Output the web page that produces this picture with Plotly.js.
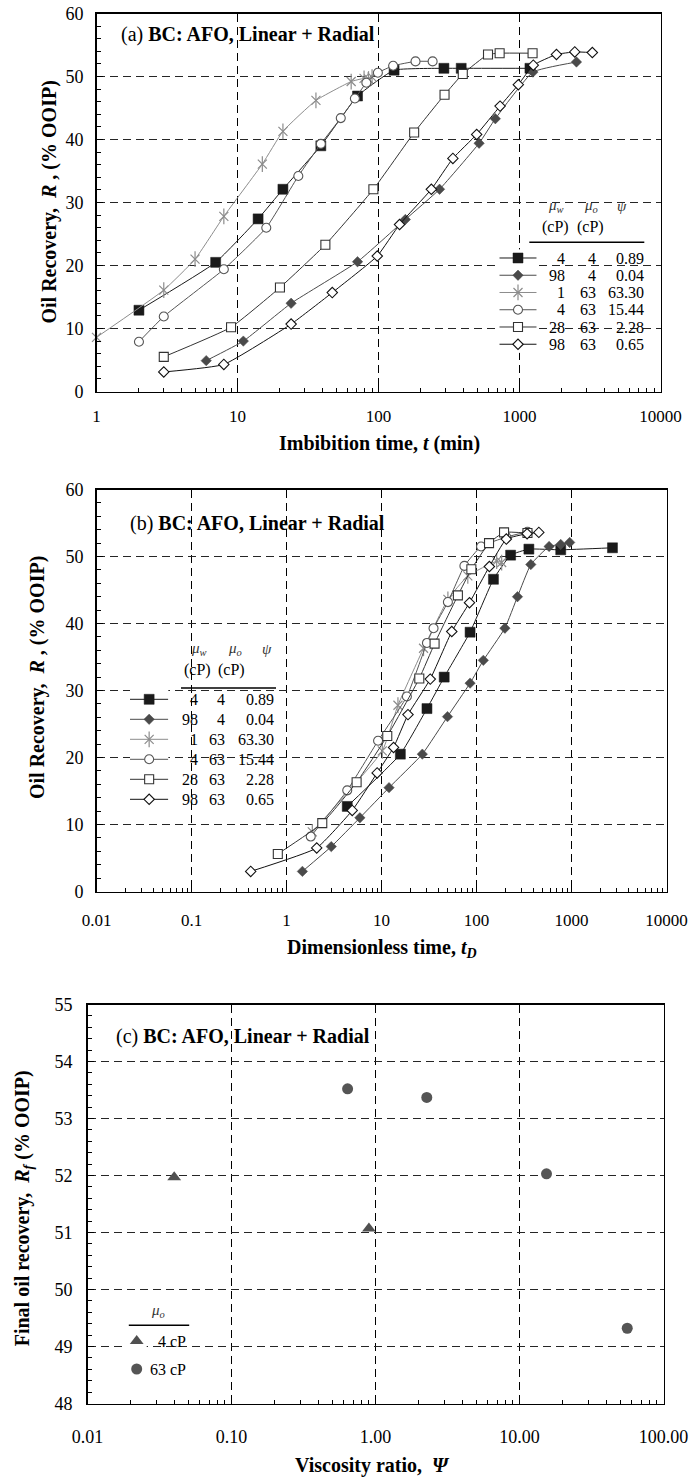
<!DOCTYPE html>
<html>
<head>
<meta charset="utf-8">
<script src="https://cdn.plot.ly/plotly-3.0.1.min.js"></script>
<style>html,body{margin:0;padding:0;background:#fff;}#chart{width:690px;height:1477px;}</style>
</head>
<body>
<div id="chart"></div>
<script>
// ---------------- DATA ----------------
// Panel (a): imbibition time t (min) vs oil recovery R (% OOIP)
const tA_sqF = [2, 7, 14, 21, 39, 71, 129, 291, 386, 1186];
const RA_sqF = [12.9, 20.5, 27.4, 32.1, 39.0, 46.9, 51.0, 51.3, 51.3, 51.3];
const tA_diF = [6, 11, 24, 71, 155, 271, 517, 674, 1245, 2535];
const RA_diF = [4.9, 8.0, 14.0, 20.6, 27.3, 32.1, 39.4, 43.3, 50.7, 52.3];
const tA_ast = [1, 3, 5, 8, 15, 21, 36, 64, 79, 85, 90];
const RA_ast = [8.6, 16.1, 21.0, 27.8, 36.1, 41.3, 46.2, 49.2, 49.7, 49.6, 49.9];
const tA_ciO = [2, 3, 8, 16, 27, 39, 54, 68, 82, 99, 127, 183, 242];
const RA_ciO = [7.9, 11.9, 19.4, 26.0, 34.2, 39.3, 43.4, 46.5, 49.0, 50.6, 51.7, 52.4, 52.4];
const tA_sqO = [3, 9, 20, 42, 92, 179, 294, 396, 598, 723, 1238];
const RA_sqO = [5.5, 10.2, 16.5, 23.3, 32.1, 41.1, 47.1, 50.4, 53.5, 53.7, 53.7];
const tA_diO = [3, 8, 24, 47, 98, 141, 237, 337, 497, 728, 981, 1253, 1829, 2466, 3285];
const RA_diO = [3.1, 4.3, 10.7, 15.7, 21.5, 26.5, 32.1, 37.0, 40.8, 45.3, 48.7, 51.8, 53.5, 53.9, 53.8];

// Panel (b): dimensionless time tD vs oil recovery R (% OOIP)
const tB_sqF = [4.36, 15.8, 30.1, 45.7, 85.6, 150.8, 228.6, 356, 770, 2700];
const RB_sqF = [12.7, 20.5, 27.3, 32.0, 38.7, 46.6, 50.2, 51.1, 51.0, 51.3];
const tB_diF = [1.47, 2.96, 5.92, 12.0, 26.9, 49.5, 85.6, 118, 199, 270, 373, 581, 770, 957];
const RB_diF = [3.0, 6.7, 11.0, 15.5, 20.5, 26.1, 31.1, 34.5, 39.3, 44.0, 48.8, 51.5, 51.8, 52.1];
const tB_ast = [1.87, 10.2, 14.9, 27.7, 50, 81, 163, 184];
const RB_ast = [8.9, 21.0, 27.8, 36.3, 43.6, 47.1, 49.3, 49.1];
const tB_ciO = [1.80, 4.36, 9.2, 18.5, 30.1, 35.3, 50, 74.6, 111.7, 206, 344];
const RB_ciO = [8.2, 15.1, 22.5, 29.1, 37.1, 39.3, 43.2, 48.6, 51.5, 52.9, 53.7];
const tB_sqO = [0.81, 2.38, 5.47, 11.5, 25.0, 36.2, 63.7, 88.3, 135.5, 195, 344];
const RB_sqO = [5.6, 10.2, 16.3, 23.2, 31.8, 37.0, 44.2, 48.1, 52.0, 53.6, 53.5];
const tB_diO = [0.42, 2.08, 4.92, 9.0, 13.4, 19.0, 32.6, 54.9, 84.4, 136.6, 206, 341, 453];
const RB_diO = [3.0, 6.5, 12.1, 17.7, 21.5, 26.4, 31.7, 38.8, 43.1, 48.5, 52.6, 53.4, 53.6];

// Panel (c): viscosity ratio vs final oil recovery
const psi_4cP = [0.04, 0.90];
const Rf_4cP = [51.97, 51.07];
const psi_63cP = [0.64, 2.27, 15.4, 56];
const Rf_63cP = [53.52, 53.37, 52.03, 49.32];

// Legend table
const muW = ['4', '98', '1', '4', '28', '98'];
const muO = ['4', '4', '63', '63', '63', '63'];
const psiLbl = ['0.89', '0.04', '63.30', '15.44', '2.28', '0.65'];
const cLegendLbl = ['4 cP', '63 cP'];

// Tick labels
const ticksA = ['1', '10', '100', '1000', '10000'];
const ticksB = ['0.01', '0.1', '1', '10', '100', '1000', '10000'];
const ticksC = ['0.01', '0.10', '1.00', '10.00', '100.00'];

// ---------------- STYLE / LAYOUT ----------------
const W = 690, H = 1477;
const FONT = 'Liberation Serif, Times New Roman, Times, serif';
const px = x => x / W;
const py = y => 1 - y / H;

// star = x-thin + vertical bar overlay (6-arm asterisk)
const styles = [
  {sym: 'square', fill: '#1a1a1a', edge: '#1a1a1a', line: '#1a1a1a', size: 10, lw: 0.5},
  {sym: 'diamond', fill: '#4a4a4a', edge: '#4a4a4a', line: '#4a4a4a', size: 8, lw: 0.5},
  {sym: 'x-thin-open', fill: '#8c8c8c', edge: '#8c8c8c', line: '#8c8c8c', size: 9, lw: 1.2, bar: true},
  {sym: 'circle', fill: '#ffffff', edge: '#555555', line: '#555555', size: 9, lw: 1.1},
  {sym: 'square', fill: '#ffffff', edge: '#333333', line: '#333333', size: 9, lw: 1.1},
  {sym: 'diamond', fill: '#ffffff', edge: '#111111', line: '#111111', size: 8, lw: 1.1}
];

const xsA = [tA_sqF, tA_diF, tA_ast, tA_ciO, tA_sqO, tA_diO];
const ysA = [RA_sqF, RA_diF, RA_ast, RA_ciO, RA_sqO, RA_diO];
const xsB = [tB_sqF, tB_diF, tB_ast, tB_ciO, tB_sqO, tB_diO];
const ysB = [RB_sqF, RB_diF, RB_ast, RB_ciO, RB_sqO, RB_diO];

function mk(s) {
  return {symbol: s.sym, size: s.size, color: s.fill, line: {color: s.edge, width: s.lw}};
}
function barMk(s) {
  return {symbol: 'line-ns-open', size: s.size * 1.25, color: s.edge, line: {color: s.edge, width: s.lw}};
}

const traces = [];
function addSeries(xs, ys, xa, ya) {
  xs.forEach((x, i) => {
    const s = styles[i];
    traces.push({x: x, y: ys[i], xaxis: xa, yaxis: ya, type: 'scatter', mode: 'lines+markers',
      line: {color: s.line, width: 1, shape: 'spline', smoothing: 0.4},
      marker: mk(s), cliponaxis: false, showlegend: false, hoverinfo: 'skip'});
    if (s.bar) traces.push({x: x, y: ys[i], xaxis: xa, yaxis: ya, type: 'scatter', mode: 'markers',
      marker: barMk(s), cliponaxis: false, showlegend: false, hoverinfo: 'skip'});
  });
}
addSeries(xsA, ysA, 'x', 'y');
addSeries(xsB, ysB, 'x2', 'y2');

traces.push({x: psi_4cP, y: Rf_4cP, xaxis: 'x3', yaxis: 'y3', type: 'scatter', mode: 'markers',
  marker: {symbol: 'triangle-up', size: 12, color: '#505050'}, cliponaxis: false, showlegend: false});
traces.push({x: psi_63cP, y: Rf_63cP, xaxis: 'x3', yaxis: 'y3', type: 'scatter', mode: 'markers',
  marker: {symbol: 'circle', size: 11, color: '#555555'}, cliponaxis: false, showlegend: false});

// legend glyphs (row index = series index)
function addLegendGlyphs(xa, ya) {
  styles.forEach((s, i) => {
    traces.push({x: [0, 1], y: [i, i], xaxis: xa, yaxis: ya, mode: 'lines', type: 'scatter',
      line: {color: s.line, width: 1}, showlegend: false, hoverinfo: 'skip', cliponaxis: false});
    traces.push({x: [0.5], y: [i], xaxis: xa, yaxis: ya, mode: 'markers', type: 'scatter',
      marker: mk(s), showlegend: false, hoverinfo: 'skip', cliponaxis: false});
    if (s.bar) traces.push({x: [0.5], y: [i], xaxis: xa, yaxis: ya, mode: 'markers', type: 'scatter',
      marker: barMk(s), showlegend: false, hoverinfo: 'skip', cliponaxis: false});
  });
}
addLegendGlyphs('x4', 'y4');
addLegendGlyphs('x5', 'y5');
traces.push({x: [0.5], y: [0], xaxis: 'x6', yaxis: 'y6', mode: 'markers', type: 'scatter',
  marker: {symbol: 'triangle-up', size: 12, color: '#505050'}, showlegend: false, cliponaxis: false});
traces.push({x: [0.5], y: [1], xaxis: 'x6', yaxis: 'y6', mode: 'markers', type: 'scatter',
  marker: {symbol: 'circle', size: 11, color: '#555555'}, showlegend: false, cliponaxis: false});

function logMinors(lo, hi) {
  const v = [];
  for (let k = lo; k < hi; k++) for (let d = 2; d <= 9; d++) v.push(d * Math.pow(10, k));
  return v;
}
function logAxis(dom, anchor, lo, hi, labels, fs) {
  const vals = [];
  for (let k = lo; k <= hi; k++) vals.push(Math.pow(10, k));
  return {type: 'log', domain: dom, anchor: anchor, range: [lo, hi], tickmode: 'array',
    tickvals: vals, ticktext: labels, ticks: 'inside', ticklen: 6, tickwidth: 1, tickcolor: '#000',
    showline: true, linecolor: '#000', linewidth: 1.5, mirror: true, zeroline: false,
    showgrid: true, gridcolor: '#000', gridwidth: 1, griddash: '8px,5px',
    tickfont: {size: fs, family: FONT, color: '#000'}, ticklabelstandoff: 8,
    minor: {tickmode: 'array', tickvals: logMinors(lo, hi), ticks: 'inside', ticklen: 4,
      tickcolor: '#000', tickwidth: 1, showgrid: false}};
}
function linAxis(dom, anchor, lo, hi, dt, mdt, standoff) {
  return {domain: dom, anchor: anchor, range: [lo, hi], tick0: lo, dtick: dt, ticks: 'inside',
    ticklen: 6, tickwidth: 1, tickcolor: '#000', showline: true, linecolor: '#000', linewidth: 1.5,
    mirror: true, zeroline: false, showgrid: true, gridcolor: '#262626', gridwidth: 1,
    griddash: '8px,5px', tickfont: {size: 18, family: FONT, color: '#000'},
    ticklabelstandoff: standoff,
    minor: {dtick: mdt, ticks: 'inside', ticklen: 4, tickcolor: '#000', tickwidth: 1, showgrid: false}};
}
function hidden(dom, rng) {
  return {domain: dom, range: rng, visible: false, showgrid: false, zeroline: false, fixedrange: true};
}

// pixel geometry of the panels (edges on half pixels, integer grid spacing -> crisp dashed grid)
const A = {l: 96.5, r: 96.5 + 4 * 141, t: 13.5, b: 13.5 + 6 * 63};
const B = {l: 96.5, r: 96.5 + 6 * 95, t: 489.5, b: 489.5 + 6 * 67};
const C = {l: 87.5, r: 87.5 + 4 * 144, t: 1004.5, b: 1004.5 + 7 * 57};

const legA = {x0: 499.3, x1: 536.7, y0: 258, step: 17.25};
const legB = {x0: 130, x1: 168.3, y0: 699.3, step: 20};
const legC = {x0: 126.7, x1: 146.7, y0: 1341, step: 28};

function rowsDom(L, n) {
  return [py(L.y0 + (n - 0.5) * L.step), py(L.y0 - 0.5 * L.step)];
}

const layout = {
  width: W, height: H, margin: {l: 0, r: 0, t: 0, b: 0},
  paper_bgcolor: '#fff', plot_bgcolor: '#fff', showlegend: false,
  font: {family: FONT, color: '#000', size: 17},
  xaxis: logAxis([px(A.l), px(A.r)], 'y', 0, 4, ticksA, 17),
  yaxis: linAxis([py(A.b), py(A.t)], 'x', 0, 60, 10, 2, 8),
  xaxis2: logAxis([px(B.l), px(B.r)], 'y2', -2, 4, ticksB, 17),
  yaxis2: linAxis([py(B.b), py(B.t)], 'x2', 0, 60, 10, 2, 8),
  xaxis3: logAxis([px(C.l), px(C.r)], 'y3', -2, 2, ticksC, 18),
  yaxis3: linAxis([py(C.b), py(C.t)], 'x3', 48, 55, 1, 0.2, 10),
  xaxis4: hidden([px(legA.x0), px(legA.x1)], [0, 1]),
  yaxis4: Object.assign(hidden(rowsDom(legA, 6), [5.5, -0.5]), {anchor: 'x4'}),
  xaxis5: hidden([px(legB.x0), px(legB.x1)], [0, 1]),
  yaxis5: Object.assign(hidden(rowsDom(legB, 6), [5.5, -0.5]), {anchor: 'x5'}),
  xaxis6: hidden([px(legC.x0), px(legC.x1)], [0, 1]),
  yaxis6: Object.assign(hidden(rowsDom(legC, 2), [1.5, -0.5]), {anchor: 'x6'}),
  annotations: [],
  shapes: []
};
layout.xaxis4.anchor = 'y4'; layout.xaxis5.anchor = 'y5'; layout.xaxis6.anchor = 'y6';
layout.xaxis.ticklabelstandoff = 9; layout.xaxis2.ticklabelstandoff = 13; layout.xaxis3.ticklabelstandoff = 16;

const ann = layout.annotations;
function txt(x, y, text, opt) {
  ann.push(Object.assign({xref: 'paper', yref: 'paper', x: px(x), y: py(y), text: text,
    showarrow: false, xanchor: 'center', yanchor: 'middle',
    font: {family: FONT, size: 17, color: '#000'}}, opt || {}));
}

// panel titles
const ptitle = l => '(' + l + ') <b>BC: AFO, Linear + Radial</b>';
txt(119.3, 34, ptitle('a'), {xanchor: 'left', font: {family: FONT, size: 20, color: '#000'}});
txt(127.7, 523.3, ptitle('b'), {xanchor: 'left', font: {family: FONT, size: 20, color: '#000'}});
txt(114, 1036.7, ptitle('c'), {xanchor: 'left', font: {family: FONT, size: 20, color: '#000'}});

// axis titles
const tf = {family: FONT, size: 20, color: '#000'};
txt(379, 443, '<b>Imbibition time, <i>t</i> (min)</b>', {font: tf});
txt(49.5, 202, '<b>Oil Recovery,  <i>R</i> , (% OOIP)</b>', {font: tf, textangle: -90});
txt(382, 948, '<b>Dimensionless time, <i>t<sub>D</sub></i></b>', {font: tf});
txt(38, 678, '<b>Oil Recovery,  <i>R</i> , (% OOIP)</b>', {font: tf, textangle: -90});
txt(372, 1465, '<b>Viscosity ratio,  <i>Ψ</i></b>', {font: tf});
txt(23.3, 1208, '<b>Final oil recovery,  <i>R<sub>f</sub></i> (% OOIP)</b>', {font: tf, textangle: -90});

// legend tables
const lf = {family: FONT, size: 16, color: '#000'};
const hf = {family: FONT, size: 15, color: '#333'};
function legendTable(L, c1, c2, c3, hdr) {
  txt(hdr.mw, hdr.y1, '<i>μ</i><sub><i>w</i></sub>', {font: hf});
  txt(hdr.mo, hdr.y1, '<i>μ</i><sub><i>o</i></sub>', {font: hf});
  txt(hdr.ps, hdr.y1, '<i>ψ</i>', {font: hf});
  txt(hdr.cp1, hdr.y2, '(cP)', {font: lf});
  txt(hdr.cp2, hdr.y2, '(cP)', {font: lf});
  layout.shapes.push({type: 'line', xref: 'paper', yref: 'paper', x0: px(hdr.lx0), x1: px(hdr.lx1),
    y0: py(hdr.ly), y1: py(hdr.ly), line: {color: '#000', width: 1.5}});
  muW.forEach((v, i) => {
    const y = L.y0 + i * L.step;
    txt(c1, y, v, {xanchor: 'right', font: lf});
    txt(c2, y, muO[i], {xanchor: 'right', font: lf});
    txt(c3, y, psiLbl[i], {xanchor: 'right', font: lf});
  });
}
legendTable(legA, 567.3, 598, 646,
  {mw: 556, mo: 591, ps: 622, y1: 206, cp1: 555, cp2: 590, y2: 226.7, lx0: 529.3, lx1: 644.3, ly: 242.3});
legendTable(legB, 200, 227.3, 276,
  {mw: 199, mo: 235, ps: 266.7, y1: 649.3, cp1: 197, cp2: 231.7, y2: 670, lx0: 181, lx1: 276, ly: 688});

// panel (c) legend
txt(157.7, 1311, '<i>μ</i><sub><i>o</i></sub>', {font: hf});
layout.shapes.push({type: 'line', xref: 'paper', yref: 'paper', x0: px(128.8), x1: px(189.2),
  y0: py(1325.3), y1: py(1325.3), line: {color: '#000', width: 1.5}});
cLegendLbl.forEach((s, i) => txt(188.3, legC.y0 + i * legC.step, s, {xanchor: 'right', font: lf}));

Plotly.newPlot('chart', traces, layout, {staticPlot: true, displayModeBar: false});
</script>
</body>
</html>
